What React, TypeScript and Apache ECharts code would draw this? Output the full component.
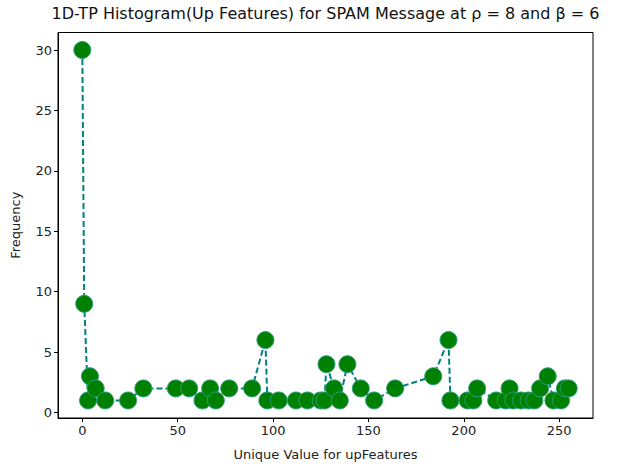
import React, { useEffect, useRef } from "react";
import * as echarts from "echarts";

const xValues = [0, 1, 3, 4, 7, 12, 24, 32, 49, 56, 63, 67, 70, 77, 89, 96, 97, 103, 112, 118, 125, 127, 128, 132, 135, 139, 146, 153, 164, 184, 192, 193, 202, 205, 207, 217, 222, 224, 226, 230, 234, 237, 240, 244, 247, 251, 253, 255];
const frequencies = [30, 9, 1, 3, 2, 1, 1, 2, 2, 2, 1, 2, 1, 2, 2, 6, 1, 1, 1, 1, 1, 1, 4, 2, 1, 4, 2, 1, 2, 3, 6, 1, 1, 1, 2, 1, 1, 2, 1, 1, 1, 1, 2, 3, 1, 1, 2, 2];
const xTicks = [0, 50, 100, 150, 200, 250];
const yTicks = [0, 5, 10, 15, 20, 25, 30];

const titleText = "1D-TP Histogram(Up Features) for SPAM Message at \u03c1 = 8 and \u03b2 = 6";
const xName = "Unique Value for upFeatures";
const yName = "Frequency";

export default function App() {
  const ref = useRef<HTMLDivElement>(null);
  useEffect(() => {
    if (!ref.current) return;
    const chart = echarts.init(ref.current, undefined, { renderer: "svg" });
    const font = "DejaVu Sans";
    const xMin = 0 - 255 * 0.05;
    const xMax = 255 + 255 * 0.05;
    const yMin = 1 - 29 * 0.05;
    const yMax = 30 + 29 * 0.05;
    chart.setOption({
      animation: false,
      backgroundColor: "#ffffff",
      grid: {
        left: 58,
        right: 41,
        top: 32.5,
        bottom: 47,
        show: true,
        borderColor: "#000",
        borderWidth: 1,
        backgroundColor: "transparent",
      },
      graphic: [
        {
          type: "text",
          x: 325.5,
          y: 5,
          style: {
            text: titleText,
            font: `16px "${font}"`,
            fill: "#111",
            textAlign: "center",
            textVerticalAlign: "top",
          },
        },
      ],
      xAxis: {
        type: "value",
        min: xMin,
        max: xMax,
        name: xName,
        nameLocation: "middle",
        nameGap: 30,
        nameTextStyle: { fontFamily: font, fontSize: 13, color: "#222" },
        axisLine: { show: true, onZero: false, lineStyle: { color: "#000", width: 1 } },
        axisTick: { show: true, length: 4, customValues: xTicks, lineStyle: { color: "#000" } },
        axisLabel: { customValues: xTicks, fontFamily: font, fontSize: 13, color: "#222", margin: 6 },
        splitLine: { show: false },
      },
      yAxis: {
        type: "value",
        min: yMin,
        max: yMax,
        name: yName,
        nameLocation: "middle",
        nameGap: 36,
        nameTextStyle: { fontFamily: font, fontSize: 13, color: "#222" },
        axisLine: { show: true, onZero: false, lineStyle: { color: "#000", width: 1 } },
        axisTick: { show: true, length: 4, customValues: yTicks, lineStyle: { color: "#000" } },
        axisLabel: { customValues: yTicks, fontFamily: font, fontSize: 13, color: "#222", margin: 6 },
        splitLine: { show: false },
      },
      series: [
        {
          type: "line",
          data: xValues.map((x, i) => [x, frequencies[i]]),
          symbol: "circle",
          symbolSize: 17,
          lineStyle: { color: "#00817f", width: 2, type: [6, 3] },
          itemStyle: { color: "#008000", borderColor: "#2a9c7c", borderWidth: 1 },
          clip: false,
        },
      ],
    });
    return () => chart.dispose();
  }, []);
  return (
    <div
      ref={ref}
      style={{ position: "fixed", left: 0, top: 0, width: 634, height: 466, background: "#fff" }}
    />
  );
}
